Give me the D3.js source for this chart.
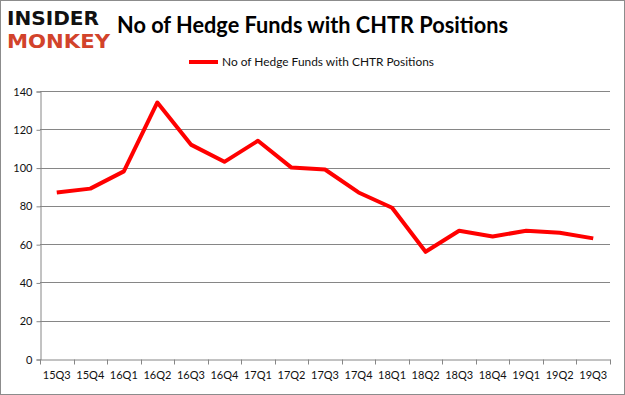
<!DOCTYPE html>
<html>
<head>
<meta charset="utf-8">
<script src="https://cdnjs.cloudflare.com/ajax/libs/d3/7.8.5/d3.min.js"></script>
<style>
  body { margin: 0; background: #fff; }
  svg { display: block; }
</style>
</head>
<body>
<div id="chart"></div>
<script>
(function() {
	// quarters and fund counts
	var quarters = ["15Q3", "15Q4", "16Q1", "16Q2", "16Q3", "16Q4", "17Q1", "17Q2", "17Q3",
		"17Q4", "18Q1", "18Q2", "18Q3", "18Q4", "19Q1", "19Q2", "19Q3"];
	var funds = [87, 89, 98, 134, 112, 103, 114, 100, 99, 87, 79, 56, 67, 64, 67, 66, 63];
	var yTicks = [0, 20, 40, 60, 80, 100, 120, 140];
	var seriesName = "No of Hedge Funds with CHTR Positions";

	var width = 625;
	var height = 395;
	var margin = {top: 91, right: 15, bottom: 36, left: 40};
	var font = "Lato, 'Open Sans', sans-serif";

	var svg = d3.select("#chart")
		.append("svg")
		.attr("width", width)
		.attr("height", height);

	// outer frame
	svg.append("rect")
		.attr("x", 0.5).attr("y", 0.5)
		.attr("width", width - 1).attr("height", height - 1)
		.attr("fill", "#fff")
		.attr("stroke", "#8c8c8c");

	// logo
	svg.append("text")
		.attr("x", 7).attr("y", 25)
		.attr("font-family", "'DejaVu Sans', sans-serif")
		.attr("font-weight", "bold")
		.attr("font-size", 20)
		.attr("textLength", 92)
		.attr("lengthAdjust", "spacingAndGlyphs")
		.attr("fill", "#111")
		.text("INSIDER");
	svg.append("text")
		.attr("x", 7).attr("y", 48)
		.attr("font-family", "'DejaVu Sans', sans-serif")
		.attr("font-weight", "bold")
		.attr("font-size", 20)
		.attr("textLength", 103)
		.attr("lengthAdjust", "spacingAndGlyphs")
		.attr("fill", "#d2432b")
		.text("MONKEY");

	// title
	svg.append("text")
		.attr("x", 117).attr("y", 33)
		.attr("font-family", font)
		.attr("font-weight", "bold")
		.attr("font-size", 22)
		.attr("textLength", 391)
		.attr("lengthAdjust", "spacingAndGlyphs")
		.attr("fill", "#000")
		.text(seriesName);

	// legend
	svg.append("line")
		.attr("x1", 189).attr("x2", 218)
		.attr("y1", 62).attr("y2", 62)
		.attr("stroke", "#ff0000")
		.attr("stroke-width", 4);
	svg.append("text")
		.attr("x", 222).attr("y", 66)
		.attr("font-family", font)
		.attr("font-size", 11.5)
		.attr("textLength", 212)
		.attr("lengthAdjust", "spacingAndGlyphs")
		.attr("fill", "#111")
		.text(seriesName);

	var x = d3.scaleBand()
		.domain(quarters)
		.range([margin.left, width - margin.right]);
	var y = d3.scaleLinear()
		.domain([0, 140])
		.range([height - margin.bottom, margin.top]);

	var g = svg.append("g");

	// horizontal gridlines
	g.selectAll("line.grid")
		.data(yTicks.filter(function(d) { return d > 0; }))
		.enter()
		.append("line")
		.attr("class", "grid")
		.attr("x1", margin.left)
		.attr("x2", width - margin.right)
		.attr("y1", function(d) { return Math.round(y(d)) + 0.5; })
		.attr("y2", function(d) { return Math.round(y(d)) + 0.5; })
		.attr("stroke", "#868686");

	// y axis
	var yAxis = g.append("g")
		.attr("transform", "translate(" + (margin.left + 0.5) + ",0.5)")
		.call(d3.axisLeft(y).tickValues(yTicks).tickSize(4).tickPadding(4));
	yAxis.select(".domain").attr("stroke", "#868686");
	yAxis.selectAll(".tick line").attr("stroke", "#868686");
	yAxis.selectAll("text")
		.attr("font-family", font)
		.attr("font-size", 11)
		.attr("fill", "#111");

	// x axis with ticks at category boundaries
	var xAxis = g.append("g")
		.attr("transform", "translate(0," + (Math.round(y(0)) + 0.5) + ")")
		.call(d3.axisBottom(x).tickSize(0).tickPadding(12));
	xAxis.select(".domain").attr("stroke", "#868686");
	xAxis.selectAll("text")
		.attr("font-family", font)
		.attr("font-size", 11)
		.attr("fill", "#111");
	var bounds = quarters.map(function(q) { return x(q); }).concat([x.range()[1]]);
	xAxis.selectAll("line.bound")
		.data(bounds)
		.enter()
		.append("line")
		.attr("class", "bound")
		.attr("x1", function(d) { return Math.round(d) + 0.5; })
		.attr("x2", function(d) { return Math.round(d) + 0.5; })
		.attr("y1", 0).attr("y2", 5)
		.attr("stroke", "#868686");

	// series line
	var line = d3.line()
		.x(function(d, i) { return x(quarters[i]) + x.bandwidth() / 2; })
		.y(function(d) { return y(d); });
	g.append("path")
		.datum(funds)
		.attr("d", line)
		.attr("fill", "none")
		.attr("stroke", "#ff0000")
		.attr("stroke-width", 4)
		.attr("stroke-linejoin", "round");
})();
</script>
</body>
</html>
